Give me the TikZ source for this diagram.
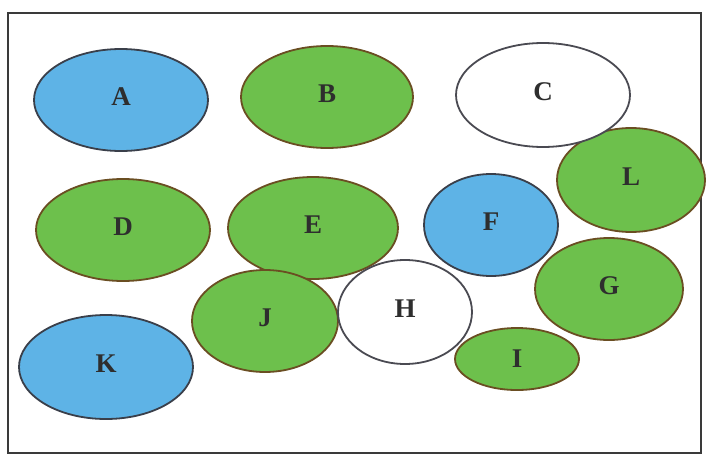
\documentclass[tikz,border=0pt]{standalone}
\usepackage{fontspec}
\setmainfont{Liberation Serif}
\usetikzlibrary{shapes.geometric}
\definecolor{blobblue}{HTML}{5EB3E6}
\definecolor{blobgreen}{HTML}{6DC04C}
\definecolor{blueedge}{HTML}{3A3F4A}
\definecolor{greenedge}{HTML}{6A4E22}
\definecolor{whiteedge}{HTML}{4A4A52}
\definecolor{framecol}{HTML}{3A3A3A}
\tikzset{
  blob/.style={ellipse, inner sep=0pt, line width=1.8pt,
    font=\fontsize{27}{30}\selectfont\bfseries, text=black!82},
  bluebl/.style={blob, fill=blobblue, draw=blueedge},
  greenbl/.style={blob, fill=blobgreen, draw=greenedge},
  whitebl/.style={blob, fill=white, draw=whiteedge},
  framebox/.style={draw=framecol, line width=1.6pt}
}
\newcommand{\lift}[1]{\raisebox{7pt}{#1}}
\begin{document}
\begin{tikzpicture}[x=1pt,y=-1pt]
\useasboundingbox (0,0) rectangle (709,458);
\fill[white] (0,0) rectangle (709,458);
\draw[framebox] (8,13) -- (701,13) -- (701,453) -- (8,453) -- cycle;
\node[bluebl, minimum width=174pt, minimum height=102pt] (A) at (121,100) {\lift{A}};
\node[greenbl, minimum width=172pt, minimum height=102pt] (B) at (327,97) {\lift{B}};
\node[greenbl, minimum width=148pt, minimum height=104pt] (L) at (631,180) {\lift{L}};
\node[whitebl, minimum width=174pt, minimum height=104pt] (C) at (543,95) {\lift{C}};
\node[greenbl, minimum width=174pt, minimum height=102pt] (D) at (123,230) {\lift{D}};
\node[greenbl, minimum width=170pt, minimum height=102pt] (E) at (313,228) {\lift{E}};
\node[bluebl, minimum width=134pt, minimum height=102pt] (F) at (491,225) {\lift{F}};
\node[greenbl, minimum width=148pt, minimum height=102pt] (G) at (609,289) {\lift{G}};
\node[greenbl, minimum width=146pt, minimum height=102pt] (J) at (265,321) {\lift{J}};
\node[whitebl, minimum width=134pt, minimum height=104pt] (H) at (405,312) {\lift{H}};
\node[greenbl, minimum width=124pt, minimum height=62pt] (I) at (517,359) {\raisebox{-3pt}{I}};
\node[bluebl, minimum width=174pt, minimum height=104pt] (K) at (106,367) {\lift{K}};
\end{tikzpicture}
\end{document}
